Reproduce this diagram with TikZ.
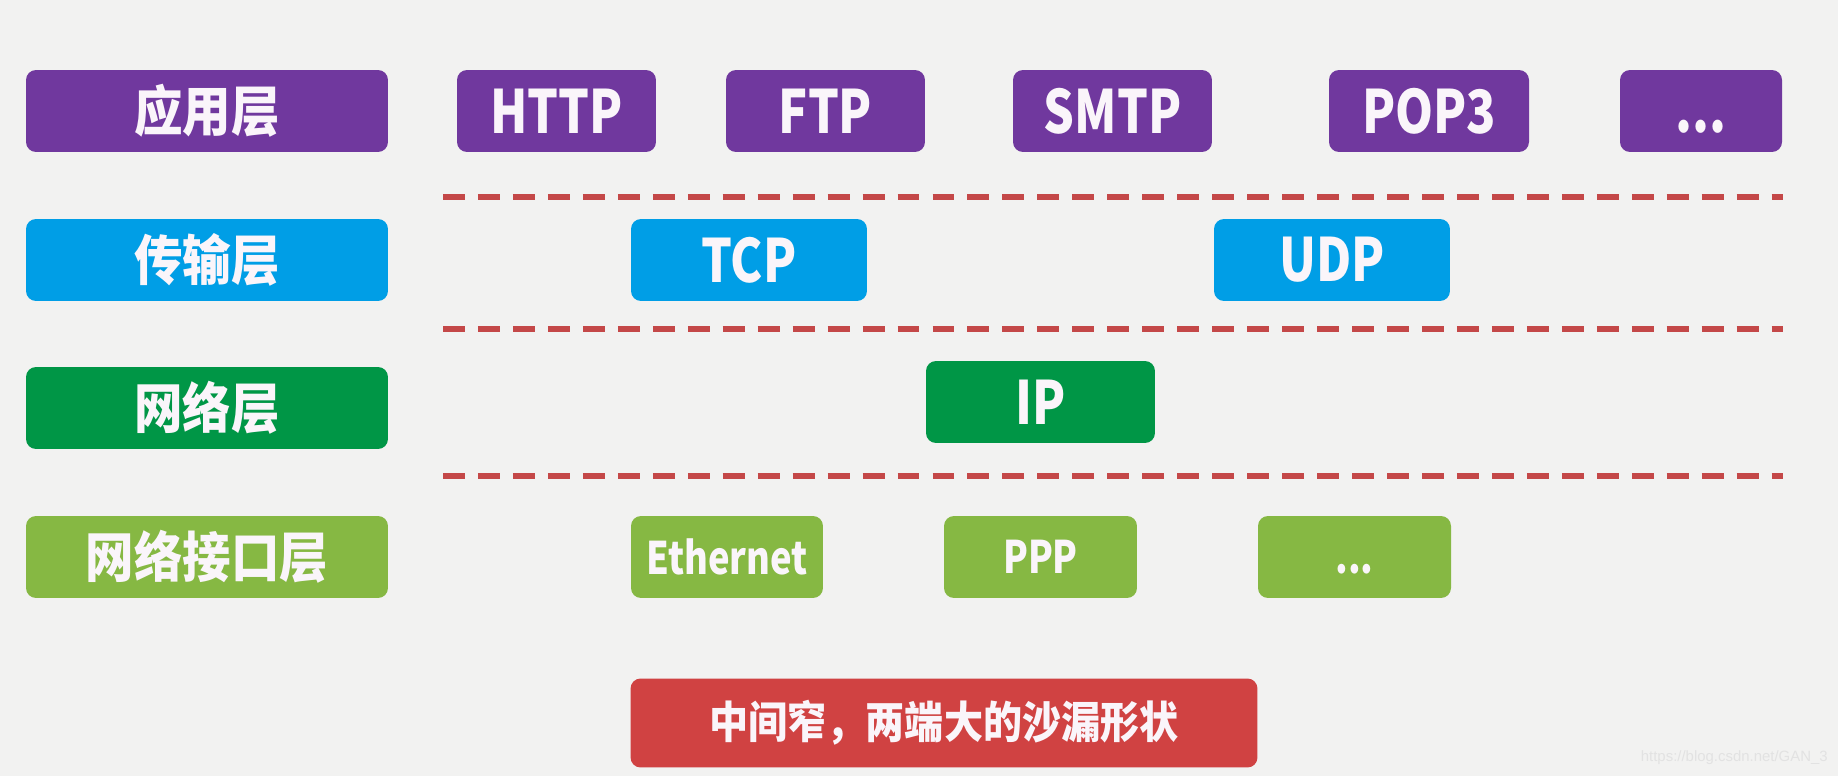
\documentclass[tikz,border=0pt]{standalone}
\usepackage{fontspec}
\newfontfamily\cjk{Noto Sans CJK SC}[FakeStretch=0.89]
\newfontfamily\lat{Noto Sans CJK SC}[FakeStretch=0.81]
\newfontfamily\wmfont{Liberation Sans}
\definecolor{bgc}{RGB}{242,242,241}
\definecolor{purp}{RGB}{112,56,158}
\definecolor{blu}{RGB}{0,158,230}
\definecolor{dgreen}{RGB}{0,150,70}
\definecolor{lgreen}{RGB}{134,184,67}
\definecolor{redbox}{RGB}{208,66,66}
\definecolor{redline}{RGB}{196,72,72}
\definecolor{txt}{RGB}{250,245,250}
\definecolor{wm}{RGB}{226,226,226}
\begin{document}
\begin{tikzpicture}[x=0.02cm,y=-0.02cm,
  box/.style={rectangle,rounded corners=0.2cm,inner sep=0pt,minimum height=1.64cm,text=txt,font=\lat\bfseries\fontsize{34}{36}\selectfont},
  layer/.style={box,minimum width=7.24cm,font=\cjk\bfseries\fontsize{31}{33}\selectfont},
  small/.style={box,font=\lat\bfseries\fontsize{25.5}{28}\selectfont},
  sep/.style={redline,line width=3.4pt,dash pattern=on 12.5pt off 7.4pt}]
\fill[bgc] (0,0) rectangle (1838,776);
\useasboundingbox (0,0) rectangle (1838,776);
% row 1
\node[layer,fill=purp] (app) at (207,111) {应用层};
\node[box,fill=purp,minimum width=3.98cm] (http) at (556.5,111) {HTTP};
\node[box,fill=purp,minimum width=3.98cm] (ftp) at (825.5,111) {FTP};
\node[box,fill=purp,minimum width=3.98cm] (smtp) at (1112.5,111) {SMTP};
\node[box,fill=purp,minimum width=4.0cm] (pop) at (1429,111) {POP3};
\node[box,fill=purp,minimum width=3.24cm] (appmore) at (1701,111) {\vphantom{P}...};
% separators
\coordinate (s1a) at (443,197); \coordinate (s1b) at (1783,197);
\coordinate (s2a) at (443,329); \coordinate (s2b) at (1783,329);
\coordinate (s3a) at (443,476); \coordinate (s3b) at (1783,476);
\draw[sep] (s1a) -- (s1b);
\draw[sep] (s2a) -- (s2b);
\draw[sep] (s3a) -- (s3b);
% row 2
\node[layer,fill=blu] (trans) at (207,260) {传输层};
\node[box,fill=blu,minimum width=4.72cm] (tcp) at (749,260) {TCP};
\node[box,fill=blu,minimum width=4.72cm] (udp) at (1332,260) {UDP};
% row 3
\node[layer,fill=dgreen] (net) at (207,408) {网络层};
\node[box,fill=dgreen,minimum width=4.58cm] (ip) at (1040.5,402) {IP};
% row 4
\node[layer,fill=lgreen] (link) at (207,557) {网络接口层};
\node[small,fill=lgreen,minimum width=3.84cm] (eth) at (727,557) {Ethernet};
\node[small,fill=lgreen,minimum width=3.86cm] (ppp) at (1040.5,557) {PPP};
\node[small,fill=lgreen,minimum width=3.86cm] (linkmore) at (1354.5,557) {\vphantom{P}...};
% bottom
\node[box,fill=redbox,minimum width=12.54cm,minimum height=1.78cm,font=\cjk\bfseries\fontsize{25}{27}\selectfont] (note) at (944,723) {中间窄，两端大的沙漏形状};
\node[text=wm,font=\wmfont\fontsize{8.5}{10}\selectfont,anchor=east,inner sep=0pt] (wmark) at (1828,758) {https://blog.csdn.net/GAN\_3};
\end{tikzpicture}
\end{document}
